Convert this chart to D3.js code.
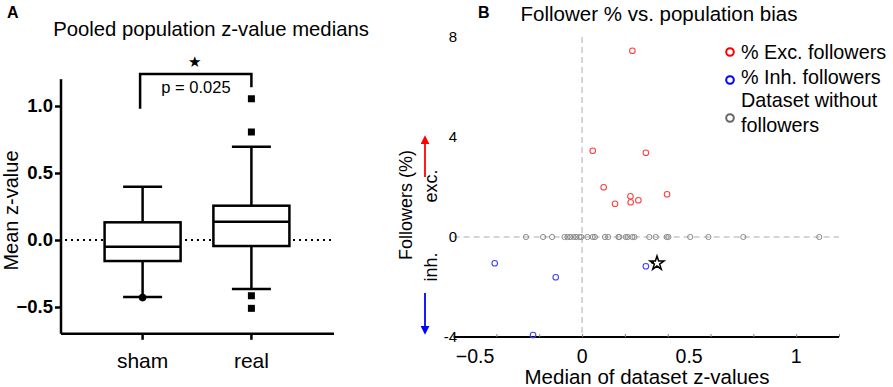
<!DOCTYPE html>
<html>
<head>
<meta charset="utf-8">
<script src="https://cdn.jsdelivr.net/npm/d3@7"></script>
<style>
  body { margin: 0; background: #fff; }
  svg text { font-family: Arial, "Liberation Sans", sans-serif; fill: #000; }
</style>
</head>
<body>
<div id="chart"></div>
<script>
// ---- Panel A data (box plot) ----
const groups = ["sham", "real"];
const whiskerLow = [-0.425, -0.366];
const q1 = [-0.157, -0.045];
const medians = [-0.05, 0.137];
const q3 = [0.132, 0.256];
const whiskerHigh = [0.398, 0.696];
const outliersSham = [-0.43];
const outliersReal = [1.054, 0.806, -0.416, -0.51];
const yTicksA = [-0.5, 0.0, 0.5, 1.0];

// ---- Panel B data (scatter) ----
const excX = [0.235, 0.05, 0.298, 0.101, 0.226, 0.397, 0.154, 0.227, 0.263];
const excY = [7.45, 3.45, 3.37, 1.99, 1.63, 1.71, 1.33, 1.39, 1.47];
const inhX = [-0.408, -0.123, 0.298, -0.229];
const inhY = [-1.05, -1.61, -1.17, -3.92];
const noneX = [-0.262, -0.182, -0.140, -0.082, -0.068, -0.056, -0.040, -0.028, -0.012,
  -0.004, 0.025, 0.050, 0.060, 0.107, 0.122, 0.170, 0.174, 0.204, 0.213, 0.235, 0.245,
  0.314, 0.344, 0.395, 0.403, 0.505, 0.590, 0.753, 1.108];
const starPoint = [0.35, -1.05];
const xTicksB = [-0.6, -0.4, -0.2, 0, 0.2, 0.4, 0.6, 0.8, 1.0, 1.2];
const xLabelsB = [-0.5, 0, 0.5, 1];
const yLabelsB = [-4, 0, 4, 8];
const legendLabels = ["% Exc. followers", "% Inh. followers"];

const W = 893, H = 387;
const svg = d3.select("#chart").append("svg")
  .attr("width", W).attr("height", H);

// panel letters
svg.append("text").attr("x", 7).attr("y", 18).attr("font-size", 16)
  .attr("font-weight", "bold").text("A");
svg.append("text").attr("x", 478).attr("y", 18).attr("font-size", 16)
  .attr("font-weight", "bold").text("B");

// ================= Panel A =================
const gA = svg.append("g");
const yA = d3.scaleLinear().domain([-0.7, 1.2]).range([333.8, 79.2]);
const xA = d3.scaleBand().domain(groups).range([61, 333]).paddingInner(0.16).paddingOuter(0.33);
const bw = 76, capW = 39;

gA.append("text").attr("x", 211).attr("y", 36).attr("text-anchor", "middle")
  .attr("font-size", 20.3).text("Pooled population z-value medians");

// axes
const axisLeftA = gA.append("g").attr("transform", "translate(61,0)")
  .call(d3.axisLeft(yA).tickValues(yTicksA).tickFormat(d3.format(".1f")).tickSize(6).tickPadding(2));
axisLeftA.select(".domain").attr("stroke-width", 2.5).attr("d", `M0,${yA(1.2)}V${yA(-0.7)}`);
axisLeftA.selectAll(".tick line").attr("stroke-width", 2.5);
axisLeftA.selectAll(".tick text").attr("font-size", 18.5).attr("font-weight", "bold")
  .attr("font-family", "Arial, 'Liberation Sans', sans-serif");

const axisBottomA = gA.append("g").attr("transform", `translate(0,${yA(-0.7)})`)
  .call(d3.axisBottom(xA).tickSize(6).tickPadding(13));
axisBottomA.select(".domain").attr("stroke-width", 2.5).attr("d", "M61,0H334");
axisBottomA.selectAll(".tick line").attr("stroke-width", 2.5);
axisBottomA.selectAll(".tick text").attr("font-size", 21)
  .attr("font-family", "Arial, 'Liberation Sans', sans-serif");

gA.append("text").attr("transform", `translate(18,${yA(0.22)}) rotate(-90)`)
  .attr("text-anchor", "middle").attr("font-size", 20).text("Mean z-value");

// dotted zero line
gA.append("line").attr("x1", 65).attr("x2", 333).attr("y1", yA(0)).attr("y2", yA(0))
  .attr("stroke", "#000").attr("stroke-width", 2).attr("stroke-dasharray", "2,4");

// boxes
groups.forEach((g, i) => {
  const cx = xA(g) + xA.bandwidth() / 2;
  const line = (x1, y1, x2, y2) => gA.append("line")
    .attr("x1", x1).attr("y1", y1).attr("x2", x2).attr("y2", y2)
    .attr("stroke", "#000").attr("stroke-width", 2.5);
  line(cx, yA(whiskerHigh[i]), cx, yA(q3[i]));
  line(cx, yA(q1[i]), cx, yA(whiskerLow[i]));
  line(cx - capW / 2, yA(whiskerHigh[i]), cx + capW / 2, yA(whiskerHigh[i]));
  line(cx - capW / 2, yA(whiskerLow[i]), cx + capW / 2, yA(whiskerLow[i]));
  gA.append("rect").attr("x", cx - bw / 2).attr("y", yA(q3[i]))
    .attr("width", bw).attr("height", yA(q1[i]) - yA(q3[i]))
    .attr("fill", "#fff").attr("stroke", "#000").attr("stroke-width", 2.5);
  line(cx - bw / 2, yA(medians[i]), cx + bw / 2, yA(medians[i]));
});

// outliers
const cSham = xA("sham") + xA.bandwidth() / 2;
const cReal = xA("real") + xA.bandwidth() / 2;
gA.selectAll("circle.out").data(outliersSham).enter().append("circle")
  .attr("cx", cSham).attr("cy", d => yA(d)).attr("r", 3.8).attr("fill", "#000");
gA.selectAll("rect.out").data(outliersReal).enter().append("rect")
  .attr("x", cReal - 3.5).attr("y", d => yA(d) - 3.5).attr("width", 7).attr("height", 7)
  .attr("fill", "#000");

// significance bracket
gA.append("path")
  .attr("d", `M${cSham - 2.5},${yA(0.98)}V74H${cReal}V${yA(1.14)}`)
  .attr("fill", "none").attr("stroke", "#000").attr("stroke-width", 2.5);
gA.append("text").attr("x", 194).attr("y", 67).attr("text-anchor", "middle")
  .attr("font-size", 15).text("★");
gA.append("text").attr("x", 196).attr("y", 93).attr("text-anchor", "middle")
  .attr("font-size", 16.5).text("p = 0.025");

// ================= Panel B =================
const gB = svg.append("g");
const xB = d3.scaleLinear().domain([-0.6, 1.2]).range([453.6, 839]);
const yB = d3.scaleLinear().domain([-4, 8]).range([337, 37]);

gB.append("text").attr("x", 659).attr("y", 21).attr("text-anchor", "middle")
  .attr("font-size", 20.5).text("Follower % vs. population bias");

// reference dashed lines
gB.append("line").attr("x1", xB(0)).attr("x2", xB(0)).attr("y1", yB(8)).attr("y2", yB(-4))
  .attr("stroke", "#c8c8c8").attr("stroke-width", 1.5).attr("stroke-dasharray", "6,4");
gB.append("line").attr("x1", xB(-0.6)).attr("x2", xB(1.2)).attr("y1", yB(0)).attr("y2", yB(0))
  .attr("stroke", "#c8c8c8").attr("stroke-width", 1.5).attr("stroke-dasharray", "6,4");

// x axis
const axB = gB.append("g").attr("transform", `translate(0,${yB(-4)})`)
  .call(d3.axisBottom(xB).tickValues(xTicksB).tickSize(-3).tickFormat(""));
axB.select(".domain").attr("stroke-width", 2).attr("d", `M${xB(-0.6)},0H${xB(1.2)}`);
axB.selectAll(".tick line").attr("stroke", "#888");
gB.selectAll("text.xl").data(xLabelsB).enter().append("text")
  .attr("x", d => xB(d)).attr("y", 363).attr("text-anchor", "middle")
  .attr("font-size", 19.5).text(d => d3.format("")(d));
gB.append("text").attr("x", 647).attr("y", 384).attr("text-anchor", "middle")
  .attr("font-size", 20.5).text("Median of dataset z-values");

// y labels (no axis line)
gB.selectAll("text.yl").data(yLabelsB).enter().append("text")
  .attr("x", 457).attr("y", d => yB(d) + 5).attr("text-anchor", "end")
  .attr("font-size", 15).text(d => d);

// y title with direction arrows
gB.append("text").attr("transform", "translate(412,205) rotate(-90)")
  .attr("text-anchor", "middle").attr("font-size", 18).text("Followers (%)");
gB.append("text").attr("transform", "translate(437,186) rotate(-90)")
  .attr("text-anchor", "middle").attr("font-size", 18).text("exc.");
gB.append("text").attr("transform", "translate(437,267) rotate(-90)")
  .attr("text-anchor", "middle").attr("font-size", 18).text("inh.");
const defs = svg.append("defs");
[["ahR", "#ff0000"], ["ahB", "#0000ff"]].forEach(([id, c]) => {
  defs.append("marker").attr("id", id).attr("viewBox", "0 0 10 10").attr("refX", 8).attr("refY", 5)
    .attr("markerWidth", 5).attr("markerHeight", 5).attr("orient", "auto")
    .append("path").attr("d", "M0,0L10,5L0,10Z").attr("fill", c);
});
gB.append("line").attr("x1", 425).attr("y1", 177).attr("x2", 425).attr("y2", 137)
  .attr("stroke", "#ff0000").attr("stroke-width", 1.8).attr("marker-end", "url(#ahR)");
gB.append("line").attr("x1", 425).attr("y1", 293).attr("x2", 425).attr("y2", 333)
  .attr("stroke", "#0000ff").attr("stroke-width", 1.8).attr("marker-end", "url(#ahB)");

// points
gB.selectAll("circle.none").data(noneX).enter().append("circle")
  .attr("cx", d => xB(d)).attr("cy", yB(0)).attr("r", 2.6)
  .attr("fill", "none").attr("stroke", "#8a8a8a").attr("stroke-width", 1);
gB.selectAll("circle.exc").data(excX).enter().append("circle")
  .attr("cx", d => xB(d)).attr("cy", (d, i) => yB(excY[i])).attr("r", 2.8)
  .attr("fill", "none").attr("stroke", "#ff4040").attr("stroke-width", 1.1);
gB.selectAll("circle.inh").data(inhX).enter().append("circle")
  .attr("cx", d => xB(d)).attr("cy", (d, i) => yB(inhY[i])).attr("r", 2.8)
  .attr("fill", "none").attr("stroke", "#4040ff").attr("stroke-width", 1.1);

// star marker
const starPath = d3.symbol().type(d3.symbolStar).size(60);
gB.append("path").attr("d", starPath())
  .attr("transform", `translate(${xB(starPoint[0])},${yB(starPoint[1])})`)
  .attr("fill", "#fff").attr("stroke", "#000").attr("stroke-width", 1.5);
gB.append("rect").attr("x", xB(starPoint[0]) - 5.5).attr("y", yB(starPoint[1]) - 2)
  .attr("width", 2.5).attr("height", 2.5).attr("fill", "#000");

// legend
const legColors = ["#ff0000", "#0000ff"];
legendLabels.forEach((t, i) => {
  const y = 52 + i * 25;
  gB.append("circle").attr("cx", 730).attr("cy", y + (i ? 3 : 0)).attr("r", 3.8)
    .attr("fill", "none").attr("stroke", legColors[i]).attr("stroke-width", 2);
  gB.append("text").attr("x", 741).attr("y", y + 7).attr("font-size", 19.8).text(t);
});
gB.append("circle").attr("cx", 730).attr("cy", 118).attr("r", 3.8)
  .attr("fill", "none").attr("stroke", "#666").attr("stroke-width", 2);
gB.append("text").attr("x", 741).attr("y", 107).attr("font-size", 19.8).text("Dataset without");
gB.append("text").attr("x", 741).attr("y", 132).attr("font-size", 19.8).text("followers");
</script>
</body>
</html>
